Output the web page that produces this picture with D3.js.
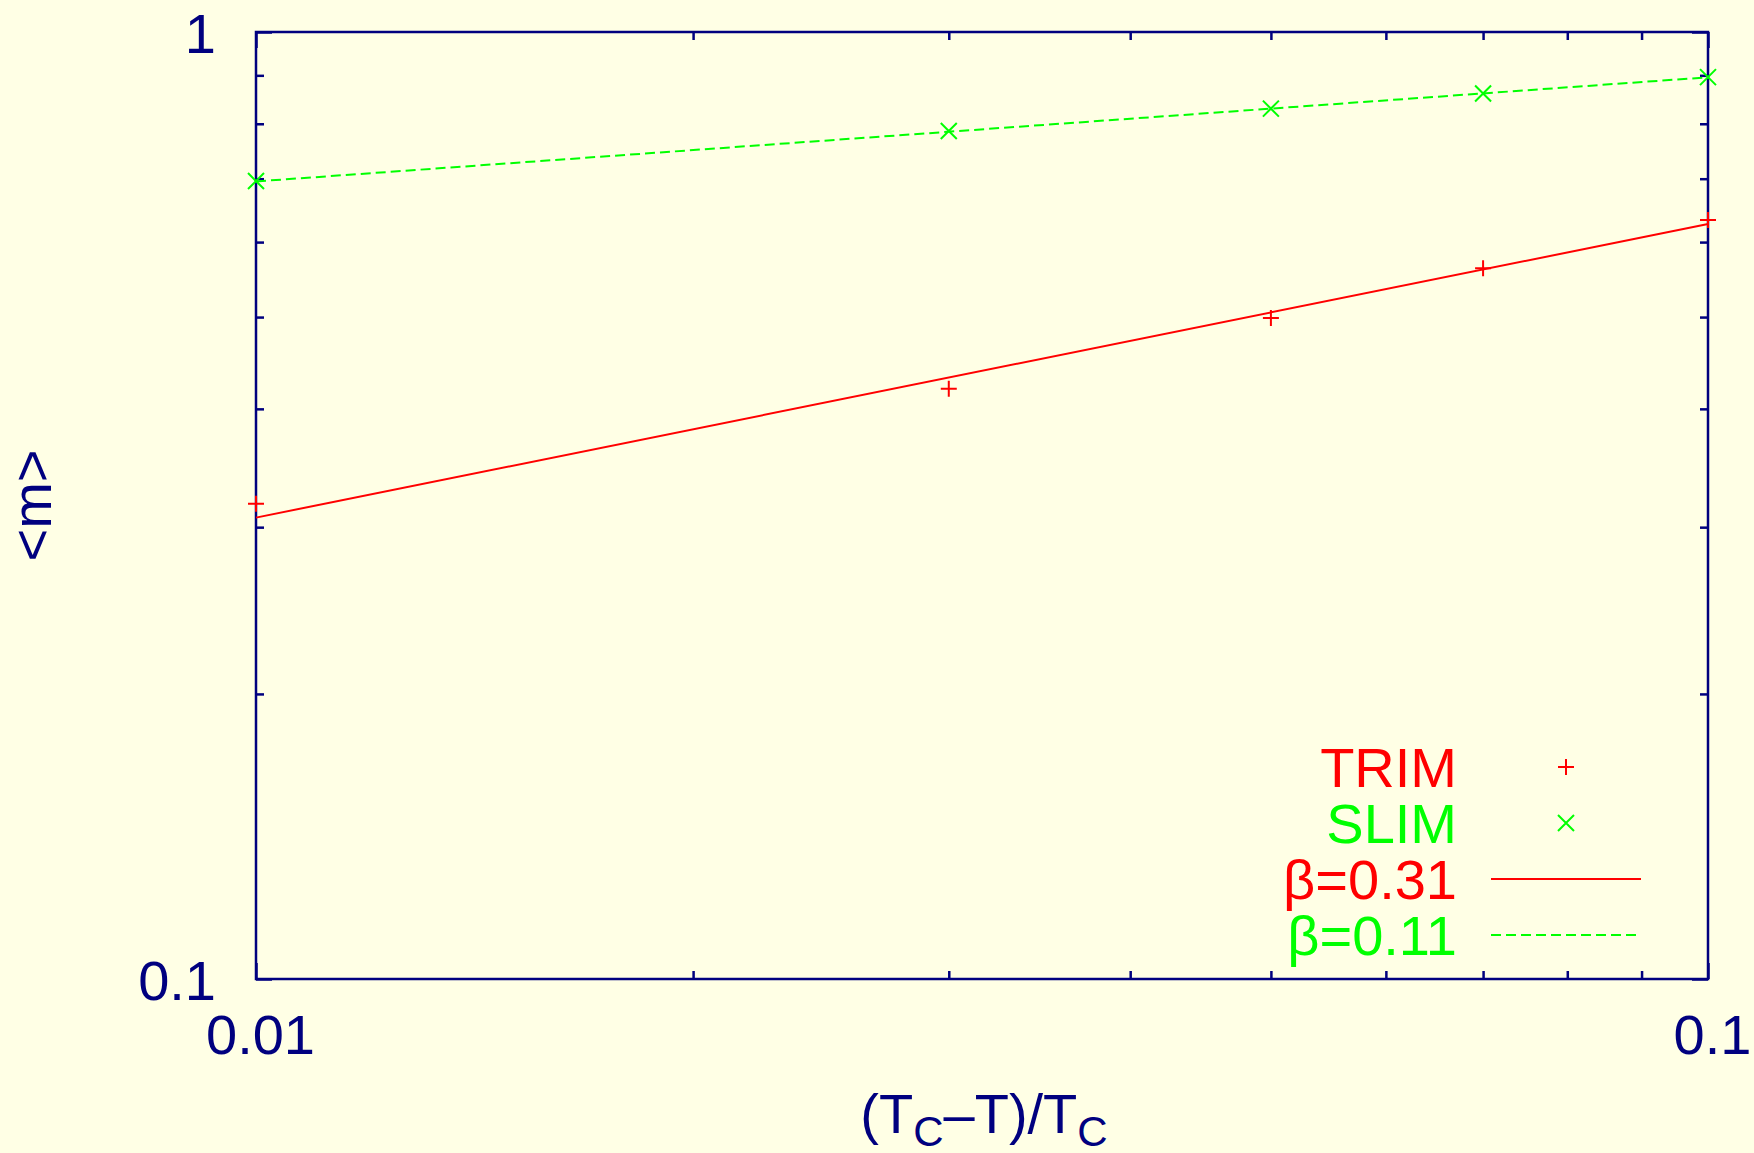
<!DOCTYPE html>
<html>
<head>
<meta charset="utf-8">
<script src="https://cdn.jsdelivr.net/npm/d3@7"></script>
<style>
  html, body { margin: 0; padding: 0; background: #ffffe5; }
  svg { display: block; }
  text { font-family: "Liberation Sans", Arial, Helvetica, sans-serif; }
</style>
</head>
<body>
<svg id="chart" width="1754" height="1153"></svg>
<script>
// Reduced temperature (Tc - T)/Tc at which the magnetisation was measured
const reducedT = [0.01, 0.03, 0.05, 0.07, 0.1];
// Mean magnetisation <m> for each model
const trimM = [0.3175, 0.420, 0.499, 0.563, 0.633];
const slimM = [0.696, 0.786, 0.830, 0.861, 0.896];
// Power-law fits <m> = A * t^beta
const fitNames = ["β=0.31", "β=0.11"];
const fitBeta = [0.31, 0.11];
const fitAmp = [1.28, 1.154];
// Axis ticks
const xMajor = [0.01, 0.1];
const xMinor = [0.02, 0.03, 0.04, 0.05, 0.06, 0.07, 0.08, 0.09];
const yMajor = [0.1, 1];
const yMinor = [0.2, 0.3, 0.4, 0.5, 0.6, 0.7, 0.8, 0.9];
const xDomain = [0.01, 0.1];
const yDomain = [0.1, 1];

const NAVY = "#00007f", RED = "#ff0000", GREEN = "#00ff00";
const FS = 56;

const svg = d3.select("#chart");
svg.append("rect").attr("width", 1754).attr("height", 1153).attr("fill", "#ffffe5");

const L = 256, R = 1708, T = 32, B = 979;
const x = d3.scaleLog().domain(xDomain).range([L, R]);
const y = d3.scaleLog().domain(yDomain).range([B, T]);

const fmt = d => String(d);

function styleAxis(g) {
  g.select(".domain").remove();
  g.selectAll("line").attr("stroke", NAVY).attr("stroke-width", 2.5);
  g.selectAll("text").attr("fill", NAVY).attr("font-size", FS);
}

// bottom axis (labels) and its minor ticks
const gB = svg.append("g").attr("transform", `translate(0,${B})`)
  .call(d3.axisBottom(x).tickValues(xMajor).tickFormat(fmt).tickSizeInner(-16).tickSizeOuter(0));
styleAxis(gB);
gB.selectAll("text").attr("x", 4).attr("y", 0).attr("dy", 75);
svg.append("g").attr("transform", `translate(0,${B})`)
  .call(d3.axisBottom(x).tickValues(xMinor).tickFormat("").tickSizeInner(-8).tickSizeOuter(0))
  .call(styleAxis);
// top mirror
svg.append("g").attr("transform", `translate(0,${T})`)
  .call(d3.axisTop(x).tickValues(xMajor).tickFormat("").tickSizeInner(-16).tickSizeOuter(0))
  .call(styleAxis);
svg.append("g").attr("transform", `translate(0,${T})`)
  .call(d3.axisTop(x).tickValues(xMinor).tickFormat("").tickSizeInner(-8).tickSizeOuter(0))
  .call(styleAxis);

// left axis (labels) and minor ticks
const gL = svg.append("g").attr("transform", `translate(${L},0)`)
  .call(d3.axisLeft(y).tickValues(yMajor).tickFormat(fmt).tickSizeInner(-16).tickSizeOuter(0));
styleAxis(gL);
gL.selectAll("text").attr("x", -40).attr("dy", "0.36em");
svg.append("g").attr("transform", `translate(${L},0)`)
  .call(d3.axisLeft(y).tickValues(yMinor).tickFormat("").tickSizeInner(-8).tickSizeOuter(0))
  .call(styleAxis);
// right mirror
svg.append("g").attr("transform", `translate(${R},0)`)
  .call(d3.axisRight(y).tickValues(yMajor).tickFormat("").tickSizeInner(-16).tickSizeOuter(0))
  .call(styleAxis);
svg.append("g").attr("transform", `translate(${R},0)`)
  .call(d3.axisRight(y).tickValues(yMinor).tickFormat("").tickSizeInner(-8).tickSizeOuter(0))
  .call(styleAxis);

// frame
svg.append("rect").attr("x", L).attr("y", T).attr("width", R - L).attr("height", B - T)
  .attr("fill", "none").attr("stroke", NAVY).attr("stroke-width", 2.5);

// axis titles
svg.append("text").attr("transform", `translate(31,${(T + B) / 2}) rotate(-90)`)
  .attr("text-anchor", "middle").attr("dy", "0.36em")
  .attr("font-size", FS).attr("fill", NAVY).text("<m>");

const xt = svg.append("text").attr("x", (L + R) / 2 + 2).attr("y", 1133)
  .attr("text-anchor", "middle").attr("font-size", FS).attr("fill", NAVY);
xt.append("tspan").text("(T");
xt.append("tspan").attr("font-size", 42).attr("dy", 13).text("C");
xt.append("tspan").attr("dy", -13).text("–T)/T");
xt.append("tspan").attr("font-size", 42).attr("dy", 13).text("C");

// fitted power laws
const fitColors = [RED, GREEN];
const fitDash = [null, "10,5"];
const line = d3.line().x(d => x(d[0])).y(d => y(d[1]));
fitBeta.forEach((b, i) => {
  const pts = xDomain.map(t => [t, fitAmp[i] * Math.pow(t, b)]);
  svg.append("path").attr("d", line(pts)).attr("fill", "none")
    .attr("stroke", fitColors[i]).attr("stroke-width", 2)
    .attr("stroke-dasharray", fitDash[i]);
});

// point symbols
const H = 8;
function plus(g, cx, cy, color) {
  g.append("path").attr("d", `M${cx - H},${cy}H${cx + H}M${cx},${cy - H}V${cy + H}`)
    .attr("stroke", color).attr("stroke-width", 2).attr("fill", "none");
}
function cross(g, cx, cy, color) {
  g.append("path").attr("d", `M${cx - H},${cy - H}L${cx + H},${cy + H}M${cx - H},${cy + H}L${cx + H},${cy - H}`)
    .attr("stroke", color).attr("stroke-width", 2).attr("fill", "none");
}
const gp = svg.append("g");
reducedT.forEach((t, i) => plus(gp, x(t), y(trimM[i]), RED));
reducedT.forEach((t, i) => cross(gp, x(t), y(slimM[i]), GREEN));

// legend
const legend = [
  { name: "TRIM", color: RED, kind: "plus" },
  { name: "SLIM", color: GREEN, kind: "cross" },
  { name: fitNames[0], color: RED, kind: "line", dash: null },
  { name: fitNames[1], color: GREEN, kind: "line", dash: "10,5" }
];
const lg = svg.append("g");
legend.forEach((d, i) => {
  const cy = 767 + i * 56;
  lg.append("text").attr("x", 1457).attr("y", cy).attr("dy", "0.36em")
    .attr("text-anchor", "end").attr("font-size", FS).attr("fill", d.color).text(d.name);
  if (d.kind === "plus") plus(lg, 1566, cy, d.color);
  else if (d.kind === "cross") cross(lg, 1566, cy, d.color);
  else lg.append("line").attr("x1", 1491).attr("x2", 1641).attr("y1", cy).attr("y2", cy)
    .attr("stroke", d.color).attr("stroke-width", 2).attr("stroke-dasharray", d.dash);
});
</script>
</body>
</html>
